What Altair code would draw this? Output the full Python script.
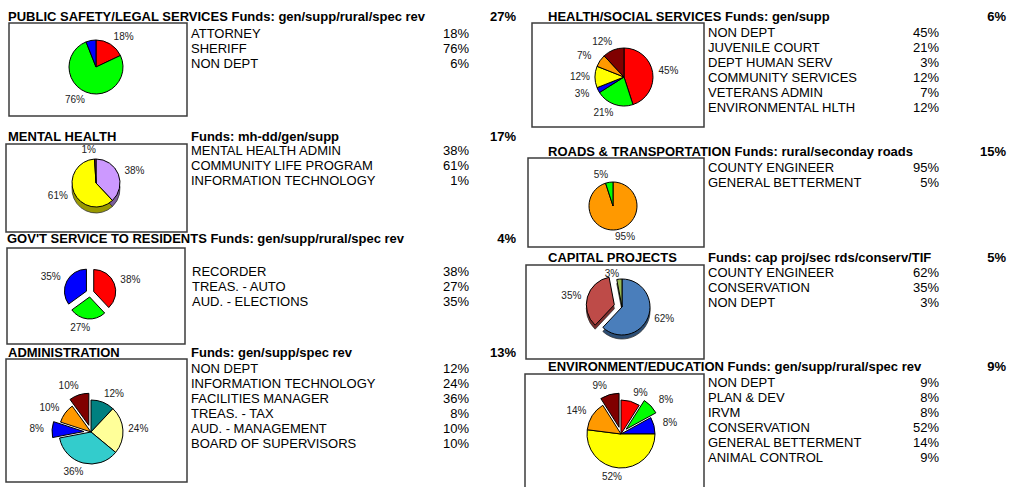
import altair as alt
import pandas as pd

FONT = "Liberation Sans"

# ---------------- data ----------------
PS_TITLE = "PUBLIC SAFETY/LEGAL SERVICES Funds: gen/supp/rural/spec rev"
PS_SHARE = "27%"
PS_DEPTS = ["ATTORNEY", "SHERIFF", "NON DEPT"]
PS_PCT = [18, 76, 6]
PS_COLORS = ["#FF0000", "#00FF00", "#0000FF"]
PS_EXPLODE = [0, 0, 0]
PS_SHOW = [1, 1, 0]

HS_TITLE = "HEALTH/SOCIAL SERVICES Funds: gen/supp"
HS_SHARE = "6%"
HS_DEPTS = ["NON DEPT", "JUVENILE COURT", "DEPT HUMAN SERV", "COMMUNITY SERVICES",
            "VETERANS ADMIN", "ENVIRONMENTAL HLTH"]
HS_PCT = [45, 21, 3, 12, 7, 12]
HS_COLORS = ["#FF0000", "#00FF00", "#0000FF", "#FFFF00", "#FF9900", "#800000"]
HS_EXPLODE = [0, 0, 0, 0, 0, 0]

MH_TITLE = "MENTAL HEALTH"
MH_FUNDS = "Funds: mh-dd/gen/supp"
MH_SHARE = "17%"
MH_DEPTS = ["MENTAL HEALTH ADMIN", "COMMUNITY LIFE PROGRAM", "INFORMATION TECHNOLOGY"]
MH_PCT = [38, 61, 1]
MH_COLORS = ["#CC99FF", "#FFFF00", "#993366"]
MH_SIDE = ["#7A5C99", "#999900", "#5C1F3D"]
MH_EXPLODE = [0, 0, 0]

RT_TITLE = "ROADS & TRANSPORTATION Funds: rural/seconday roads"
RT_SHARE = "15%"
RT_DEPTS = ["COUNTY ENGINEER", "GENERAL BETTERMENT"]
RT_PCT = [95, 5]
RT_COLORS = ["#FF9900", "#00FF00"]
RT_EXPLODE = [0, 0]

GS_TITLE = "GOV'T SERVICE TO RESIDENTS Funds: gen/supp/rural/spec rev"
GS_SHARE = "4%"
GS_DEPTS = ["RECORDER", "TREAS. - AUTO", "AUD. - ELECTIONS"]
GS_PCT = [38, 27, 35]
GS_COLORS = ["#FF0000", "#00FF00", "#0000FF"]
GS_EXPLODE = [1, 1, 1]

CP_TITLE = "CAPITAL PROJECTS"
CP_FUNDS = "Funds:  cap proj/sec rds/conserv/TIF"
CP_SHARE = "5%"
CP_DEPTS = ["COUNTY ENGINEER", "CONSERVATION", "NON DEPT"]
CP_PCT = [62, 35, 3]
CP_COLORS = ["#4A7EBB", "#BE4B48", "#98B954"]
CP_SIDE = ["#2C4D74", "#7A2E2C", "#5E7533"]
CP_EXPLODE = [0, 1, 0]

AD_TITLE = "ADMINISTRATION"
AD_FUNDS = "Funds: gen/supp/spec rev"
AD_SHARE = "13%"
AD_DEPTS = ["NON DEPT", "INFORMATION TECHNOLOGY", "FACILITIES MANAGER", "TREAS. - TAX",
            "AUD. - MANAGEMENT", "BOARD OF SUPERVISORS"]
AD_PCT = [12, 24, 36, 8, 10, 10]
AD_COLORS = ["#008080", "#FFFF99", "#33CCCC", "#0000FF", "#FF9900", "#800000"]
AD_EXPLODE = [0, 0, 0, 1, 0, 1]

EE_TITLE = "ENVIRONMENT/EDUCATION Funds: gen/supp/rural/spec rev"
EE_SHARE = "9%"
EE_DEPTS = ["NON DEPT", "PLAN & DEV", "IRVM", "CONSERVATION", "GENERAL BETTERMENT",
            "ANIMAL CONTROL"]
EE_PCT = [9, 8, 8, 52, 14, 9]
EE_COLORS = ["#FF0000", "#00FF00", "#0000FF", "#FFFF00", "#FF9900", "#800000"]
EE_EXPLODE = [0, 1, 0, 0, 0, 1]

ONE = pd.DataFrame({"k": [0]})


def text_layer(txt, x, y, align="left", bold=True, size=13):
    return alt.Chart(pd.DataFrame({"t": [txt]})).mark_text(
        align=align, baseline="alphabetic", font=FONT, fontSize=size,
        fontWeight="bold" if bold else "normal", color="#000000"
    ).encode(x=alt.value(x), y=alt.value(y), text="t:N")


def box_layer(x1, y1, x2, y2):
    return alt.Chart(ONE).mark_rect(
        fill="#FFFFFF", stroke="#3C3C3C", strokeWidth=1.5
    ).encode(x=alt.value(x1), x2=alt.value(x2), y=alt.value(y1), y2=alt.value(y2))


def list_layers(depts, pct, x_name, x_val, y0, dy=15):
    df = pd.DataFrame({"i": list(range(len(depts))), "dept": depts,
                       "lab": [f"{p}%" for p in pct]})
    base = alt.Chart(df).transform_calculate(yy=f"{y0} + datum.i * {dy}")
    names = base.mark_text(align="left", baseline="alphabetic", font=FONT,
                           fontSize=13, color="#000000").encode(
        x=alt.value(x_name), y=alt.Y("yy:Q", scale=None, axis=None), text="dept:N")
    vals = base.mark_text(align="right", baseline="alphabetic", font=FONT,
                          fontSize=13, color="#000000").encode(
        x=alt.value(x_val), y=alt.Y("yy:Q", scale=None, axis=None), text="lab:N")
    return [names, vals]


def pie_layers(depts, pct, colors, explode, cx, cy, r, gap=5, ox=15, oy=9,
               push=6, side=None, depth=0, show=None):
    df = pd.DataFrame({"i": list(range(len(pct))), "dept": depts, "v": pct,
                       "c": colors, "ex": explode,
                       "sc": side if side else colors,
                       "show": show if show else [1] * len(pct)})
    base = alt.Chart(df).transform_window(
        cum="sum(v)", sort=[alt.SortField("i")], frame=[None, 0]
    ).transform_calculate(
        t0="(datum.cum - datum.v) / 100 * 2 * PI",
        t1="datum.cum / 100 * 2 * PI",
    ).transform_calculate(
        mid="(datum.t0 + datum.t1) / 2"
    ).transform_calculate(
        px=f"{cx} + datum.ex * {gap} * sin(datum.mid)",
        py=f"{cy} - datum.ex * {gap} * cos(datum.mid)",
        lx=(f"{cx} + ({r} + {ox} + datum.ex * {gap}) * sin(datum.mid)"
            f" + (sin(datum.mid) >= 0 ? {push} : -{push}) * abs(cos(datum.mid))"),
        ly=f"{cy} - ({r} + {oy} + datum.ex * {gap}) * cos(datum.mid)",
        lab="datum.v + '%'",
    )
    layers = []
    if depth:
        sidel = base.transform_calculate(pyd=f"datum.py + {depth}").mark_arc(
            radius=r, stroke="#333333", strokeWidth=0.8).encode(
            x=alt.X("px:Q", scale=None, axis=None),
            y=alt.Y("pyd:Q", scale=None, axis=None),
            theta=alt.Theta("t0:Q", scale=None, stack=None),
            theta2=alt.Theta2("t1:Q"),
            color=alt.Color("sc:N", scale=None, legend=None))
        layers.append(sidel)
    arcs = base.mark_arc(radius=r, stroke="#000000", strokeWidth=1).encode(
        x=alt.X("px:Q", scale=None, axis=None),
        y=alt.Y("py:Q", scale=None, axis=None),
        theta=alt.Theta("t0:Q", scale=None, stack=None),
        theta2=alt.Theta2("t1:Q"),
        color=alt.Color("c:N", scale=None, legend=None))
    labels = base.transform_filter("datum.show == 1").mark_text(
        font=FONT, fontSize=10, color="#222222", baseline="middle",
        align="center").encode(
        x=alt.X("lx:Q", scale=None, axis=None),
        y=alt.Y("ly:Q", scale=None, axis=None),
        text="lab:N")
    layers += [arcs, labels]
    return layers


layers = []
# boxes
layers += [
    box_layer(9, 23, 187, 116),
    box_layer(532, 23, 704, 127),
    box_layer(6, 144, 187, 232),
    box_layer(528, 158, 704, 247),
    box_layer(7, 248, 185, 344),
    box_layer(526, 265, 704, 359),
    box_layer(6, 359, 187, 482),
    box_layer(525, 374, 704, 500),
]
# titles
layers += [
    text_layer(PS_TITLE, 8, 21), text_layer(PS_SHARE, 516, 21, align="right"),
    text_layer(HS_TITLE, 548, 21), text_layer(HS_SHARE, 1006, 21, align="right"),
    text_layer(MH_TITLE, 8, 141), text_layer(MH_FUNDS, 191, 141),
    text_layer(MH_SHARE, 516, 141, align="right"),
    text_layer(RT_TITLE, 548, 156), text_layer(RT_SHARE, 1006, 156, align="right"),
    text_layer(GS_TITLE, 7, 243), text_layer(GS_SHARE, 516, 243, align="right"),
    text_layer(CP_TITLE, 548, 262), text_layer(CP_FUNDS, 708, 262),
    text_layer(CP_SHARE, 1006, 262, align="right"),
    text_layer(AD_TITLE, 8, 357), text_layer(AD_FUNDS, 191, 357),
    text_layer(AD_SHARE, 516, 357, align="right"),
    text_layer(EE_TITLE, 548, 371), text_layer(EE_SHARE, 1006, 371, align="right"),
]
# lists
layers += list_layers(PS_DEPTS, PS_PCT, 191, 469, 37.5)
layers += list_layers(HS_DEPTS, HS_PCT, 708, 939, 37)
layers += list_layers(MH_DEPTS, MH_PCT, 191, 469, 154.5)
layers += list_layers(RT_DEPTS, RT_PCT, 708, 939, 171.5)
layers += list_layers(GS_DEPTS, GS_PCT, 192, 469, 275.5)
layers += list_layers(CP_DEPTS, CP_PCT, 708, 939, 277)
layers += list_layers(AD_DEPTS, AD_PCT, 191, 469, 372.5)
layers += list_layers(EE_DEPTS, EE_PCT, 708, 939, 387)
# pies
layers += pie_layers(PS_DEPTS, PS_PCT, PS_COLORS, PS_EXPLODE, 96, 67, 27, show=PS_SHOW)
layers += pie_layers(HS_DEPTS, HS_PCT, HS_COLORS, HS_EXPLODE, 624, 77, 29)
layers += pie_layers(MH_DEPTS, MH_PCT, MH_COLORS, MH_EXPLODE, 96, 183, 24,
                     side=MH_SIDE, depth=6)
layers += pie_layers(RT_DEPTS, RT_PCT, RT_COLORS, RT_EXPLODE, 613, 206, 24, oy=7)
layers += pie_layers(GS_DEPTS, GS_PCT, GS_COLORS, GS_EXPLODE, 90, 293, 22, gap=4)
layers += pie_layers(CP_DEPTS, CP_PCT, CP_COLORS, CP_EXPLODE, 622, 307, 28, gap=8,
                     oy=5, side=CP_SIDE, depth=4)
layers += pie_layers(AD_DEPTS, AD_PCT, AD_COLORS, AD_EXPLODE, 91, 432, 32, gap=7)
layers += pie_layers(EE_DEPTS, EE_PCT, EE_COLORS, EE_EXPLODE, 621, 434, 34, gap=7)

chart = alt.layer(*layers).properties(
    width=1021, height=487, padding=0, autosize="none", background="#FFFFFF"
).configure_view(stroke=None)

chart.save("out.html", embed_options={"renderer": "svg", "actions": False})
